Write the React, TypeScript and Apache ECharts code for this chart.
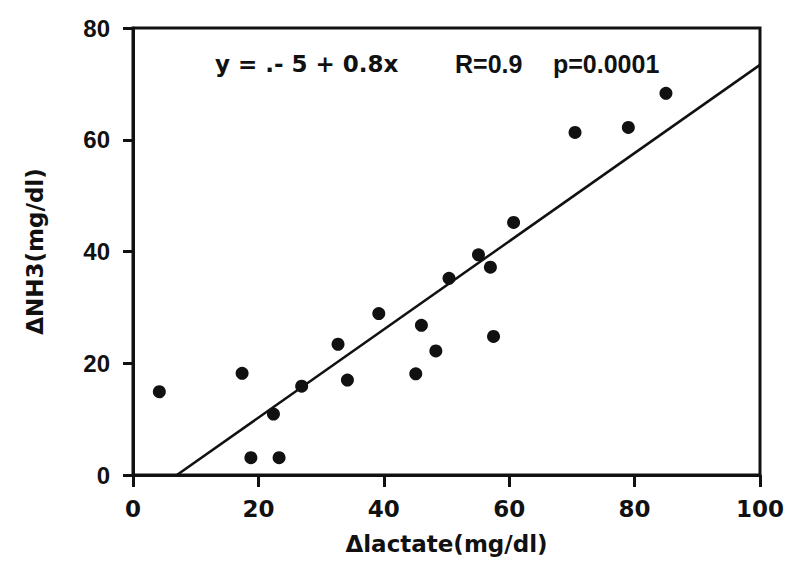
import React, { useEffect, useRef } from "react";
import * as echarts from "echarts";

const lactate = [4.2, 17.4, 18.8, 22.4, 23.3, 26.9, 32.7, 34.2, 39.2, 45.1, 46.0, 48.3, 50.4, 55.1, 57.0, 57.5, 60.7, 70.5, 79.0, 85.0];
const nh3 = [14.9, 18.2, 3.1, 10.9, 3.1, 15.9, 23.4, 17.0, 28.9, 18.1, 26.8, 22.2, 35.2, 39.4, 37.2, 24.8, 45.2, 61.3, 62.2, 68.3];
const fitLineX = [7, 100];
const fitLineY = [0, 73.4];
const xTicks = { min: 0, max: 100, interval: 20 };
const yTicks = { min: 0, max: 80, interval: 20 };
const eqParts = ["y = .- 5 + 0.8x", "R=0.9", "p=0.0001"];
const xTitle = "Δlactate(mg/dl)";
const yTitle = "ΔNH3(mg/dl)";

const INK = "#111111";

export default function App() {
  const ref = useRef<HTMLDivElement>(null);
  useEffect(() => {
    document.body.style.margin = "0";
    if (!ref.current) return;
    const chart = echarts.init(ref.current, null, { renderer: "svg" });
    const points = lactate.map((x, i) => [x, nh3[i]]);
    const line = fitLineX.map((x, i) => [x, fitLineY[i]]);
    const txt = (text: string, x: number, font: string) => ({
      type: "text",
      x,
      y: 64,
      style: {
        text,
        font,
        fill: INK,
        textAlign: "left",
        textVerticalAlign: "middle",
        align: "left",
        verticalAlign: "middle",
      },
    });
    chart.setOption({
      animation: false,
      backgroundColor: "#ffffff",
      grid: {
        left: 133,
        right: 42,
        top: 28,
        bottom: 88,
        show: true,
        borderColor: INK,
        borderWidth: 3,
      },
      xAxis: {
        type: "value",
        min: xTicks.min,
        max: xTicks.max,
        interval: xTicks.interval,
        splitLine: { show: false },
        axisLine: { show: true, lineStyle: { color: INK, width: 3 } },
        axisTick: { show: true, inside: false, length: 12, lineStyle: { color: INK, width: 3 } },
        axisLabel: {
          color: INK,
          fontFamily: "DejaVu Sans",
          fontWeight: "bold",
          fontSize: 23,
          margin: 22,
        },
        name: xTitle,
        nameLocation: "middle",
        nameGap: 57,
        nameTextStyle: {
          color: INK,
          fontFamily: "DejaVu Sans",
          fontWeight: "bold",
          fontSize: 23,
        },
      },
      yAxis: {
        type: "value",
        min: yTicks.min,
        max: yTicks.max,
        interval: yTicks.interval,
        splitLine: { show: false },
        axisLine: { show: true, lineStyle: { color: INK, width: 3 } },
        axisTick: { show: true, inside: false, length: 10, lineStyle: { color: INK, width: 3 } },
        axisLabel: {
          color: INK,
          fontFamily: "Liberation Sans",
          fontWeight: "bold",
          fontSize: 24,
          margin: 23,
        },
        name: yTitle,
        nameLocation: "middle",
        nameGap: 87,
        nameRotate: 90,
        nameTextStyle: {
          color: INK,
          fontFamily: "DejaVu Sans",
          fontWeight: "bold",
          fontSize: 23,
        },
      },
      series: [
        {
          type: "line",
          data: line,
          symbol: "none",
          lineStyle: { color: INK, width: 2.5, opacity: 1 },
          z: 2,
        },
        {
          type: "scatter",
          data: points,
          symbol: "circle",
          symbolSize: 13,
          itemStyle: { color: INK, opacity: 1 },
          z: 3,
        },
      ],
      graphic: [
        txt(eqParts[0], 215, "bold 23px 'DejaVu Sans'"),
        txt(eqParts[1], 455, "bold 25px 'Liberation Sans'"),
        txt(eqParts[2], 553, "bold 25px 'Liberation Sans'"),
      ],
    });
    return () => chart.dispose();
  }, []);
  return <div ref={ref} style={{ width: 802, height: 563 }} />;
}
